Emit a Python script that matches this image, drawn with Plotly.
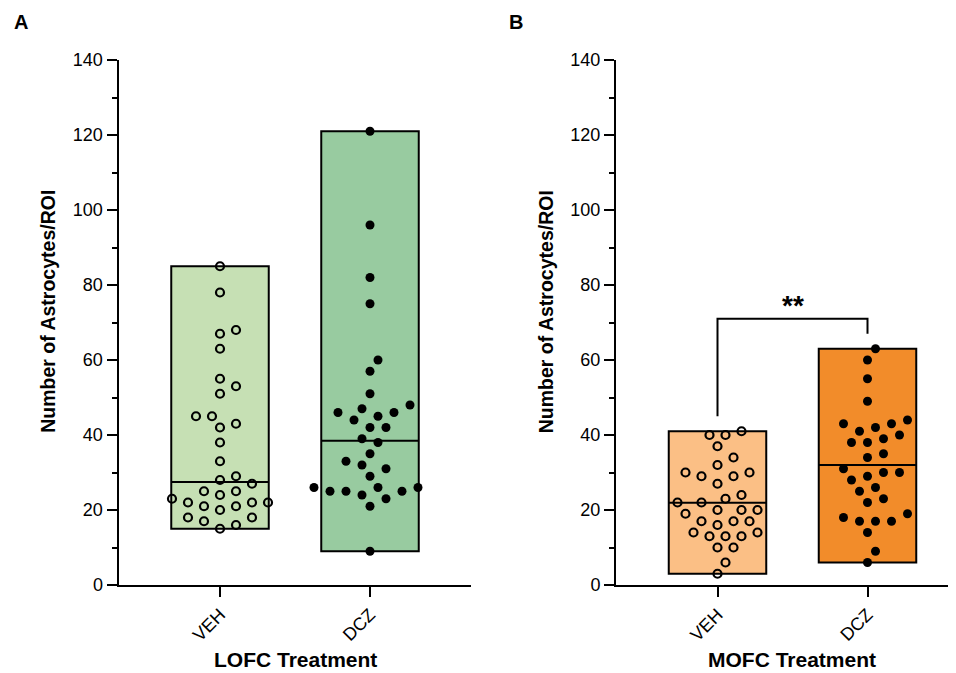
import plotly.graph_objects as go
import numpy as np

# ---------------- data ----------------
groups = ["VEH", "DCZ"]
lofc_veh = [85, 78, 68, 67, 63, 55, 53, 51, 45, 45, 43, 42, 38, 33, 29, 28,
            27, 25, 25, 24, 23, 22, 22, 22, 21, 21, 20, 18, 18, 17, 16, 15]
lofc_dcz = [121, 96, 82, 75, 60, 57, 51, 48, 47, 46, 46, 45, 44, 42, 42, 39,
            38, 35, 33, 32, 31, 29, 26, 26, 26, 25, 25, 25, 24, 23, 21, 9]
mofc_veh = [41, 40, 40, 37, 34, 32, 30, 30, 29, 29, 27, 24, 23, 22, 22, 20,
            20, 20, 19, 17, 17, 17, 16, 14, 14, 13, 13, 13, 10, 10, 6, 3]
mofc_dcz = [63, 60, 55, 49, 44, 43, 43, 42, 41, 40, 39, 38, 38, 35, 34, 31,
            30, 30, 29, 28, 26, 25, 23, 22, 19, 18, 17, 17, 17, 14, 9, 6]
y_ticks = [0, 20, 40, 60, 80, 100, 120, 140]
significance = "**"

# ---------------- layout geometry ----------------
OFF = 8  # page body margin
W, H = 956 - OFF, 673 - OFF
top_px, bottom_px = 60 - OFF, 585.5 - OFF
ymax = 140
ax_a = (118.5 - OFF, 471.0 - OFF)
ax_b = (616.0 - OFF, 956.0 - OFF)
cat_px = 150.0        # pixels between categories
first_cat_offset = 101.5  # pixels from axis start to first category
y_px_per_unit = (bottom_px - top_px) / ymax

def xrange_for(ax):
    left = -first_cat_offset / cat_px
    right = left + (ax[1] - ax[0]) / cat_px
    return [left, right]

def swarm(values, d=13.0, step=8.0):
    n = len(values)
    order = sorted(range(n), key=lambda i: values[i])
    placed = []
    offs = [0.0] * n
    cands = [0.0]
    for m in range(1, 12):
        cands += [m * step, -m * step]
    for i in order:
        ypx = values[i] * y_px_per_unit
        for c in cands:
            if all((c - px) ** 2 + (ypx - py) ** 2 >= d * d for px, py in placed):
                placed.append((c, ypx))
                offs[i] = c / cat_px
                break
    return offs

fig = go.Figure()
bar_w = 0.65

panels = [
    dict(xa="x", ya="y", data=[lofc_veh, lofc_dcz], colors=["#C6E0B4", "#98CBA0"],
         center=np.median),
    dict(xa="x2", ya="y2", data=[mofc_veh, mofc_dcz], colors=["#FBBF85", "#F28C2A"],
         center=np.mean),
]

for p in panels:
    mins = [min(v) for v in p["data"]]
    maxs = [max(v) for v in p["data"]]
    fig.add_trace(go.Bar(
        x=[0, 1], base=mins, y=[mx - mn for mx, mn in zip(maxs, mins)],
        width=bar_w, marker=dict(color=p["colors"], line=dict(color="black", width=2)),
        xaxis=p["xa"], yaxis=p["ya"], showlegend=False, hoverinfo="skip"))
    for i, vals in enumerate(p["data"]):
        c = float(p["center"](vals))
        fig.add_trace(go.Scatter(
            x=[i - bar_w / 2, i + bar_w / 2], y=[c, c], mode="lines",
            line=dict(color="black", width=2), xaxis=p["xa"], yaxis=p["ya"],
            showlegend=False, hoverinfo="skip"))
    for i, vals in enumerate(p["data"]):
        offs = swarm(vals)
        if i == 0:
            marker = dict(symbol="circle-open", size=8, color="black",
                          line=dict(color="black", width=2.2))
        else:
            marker = dict(symbol="circle", size=9, color="black")
        fig.add_trace(go.Scatter(
            x=[i + o for o in offs], y=vals, mode="markers", marker=marker,
            xaxis=p["xa"], yaxis=p["ya"], showlegend=False, cliponaxis=False,
            hoverinfo="skip"))

font_fam = "Liberation Sans, Arial, sans-serif"
tick_font = dict(family=font_fam, size=18, color="black")

def yax(anchor):
    return dict(range=[0, ymax], tickvals=y_ticks, ticks="outside", ticklen=10,
                tickwidth=2, tickcolor="black", showline=True, linewidth=2,
                linecolor="black", showgrid=False, zeroline=False,
                tickfont=tick_font, anchor=anchor, domain=[0, 1],
                minor=dict(dtick=10, tick0=0, ticks="outside", ticklen=5,
                           tickwidth=2, tickcolor="black", showgrid=False))

def xax(ax, anchor):
    return dict(range=xrange_for(ax), domain=[ax[0] / W, min(ax[1] / W, 1.0)],
                tickvals=[0, 1], ticktext=groups, tickangle=-45,
                ticks="outside", ticklen=10, tickwidth=2, tickcolor="black",
                showline=True, linewidth=2, linecolor="black", showgrid=False,
                zeroline=False, tickfont=tick_font, anchor=anchor)

def py(px):
    return (bottom_px - (px - OFF)) / (bottom_px - top_px)

def pxx(px):
    return (px - OFF) / W

# significance bracket (panel B)
b_max = [max(v) for v in panels[1]["data"]]
br_top = max(b_max) + 8
fig.add_shape(type="path",
              path=f"M 0,{b_max[0] + 4} L 0,{br_top} L 1,{br_top} L 1,{b_max[1] + 4}",
              xref="x2", yref="y2", line=dict(color="black", width=2))

title_font = dict(family=font_fam, size=19.5, color="black")
xt_font = dict(family=font_fam, size=21, color="black")
annotations = [
    dict(text="<b>A</b>", x=pxx(12), y=py(22), xref="paper", yref="paper",
         xanchor="left", yanchor="middle", showarrow=False,
         font=dict(family=font_fam, size=20, color="black")),
    dict(text="<b>B</b>", x=pxx(507), y=py(22), xref="paper", yref="paper",
         xanchor="left", yanchor="middle", showarrow=False,
         font=dict(family=font_fam, size=20, color="black")),
    dict(text="<b>Number of Astrocytes/ROI</b>", x=pxx(48), y=py(312),
         xref="paper", yref="paper", textangle=-90, showarrow=False,
         xanchor="center", yanchor="middle", font=title_font),
    dict(text="<b>Number of Astrocytes/ROI</b>", x=pxx(545.5), y=py(312),
         xref="paper", yref="paper", textangle=-90, showarrow=False,
         xanchor="center", yanchor="middle", font=title_font),
    dict(text="<b>LOFC Treatment</b>", x=pxx(295), y=py(660),
         xref="paper", yref="paper", showarrow=False, xanchor="center",
         yanchor="middle", font=xt_font),
    dict(text="<b>MOFC Treatment</b>", x=pxx(792), y=py(660),
         xref="paper", yref="paper", showarrow=False, xanchor="center",
         yanchor="middle", font=xt_font),
    dict(text=f"<b>{significance}</b>", x=0.5, y=br_top, xref="x2", yref="y2",
         showarrow=False, xanchor="center", yanchor="bottom", yshift=-4,
         font=dict(family=font_fam, size=28, color="black")),
]

fig.update_layout(
    width=W, height=H, paper_bgcolor="white", plot_bgcolor="white",
    margin=dict(l=0, r=0, t=top_px, b=H - bottom_px),
    xaxis=xax(ax_a, "y"), yaxis=yax("x"),
    xaxis2=xax(ax_b, "y2"), yaxis2=yax("x2"),
    annotations=annotations, showlegend=False, barmode="overlay",
)

fig.write_html("out.html")
